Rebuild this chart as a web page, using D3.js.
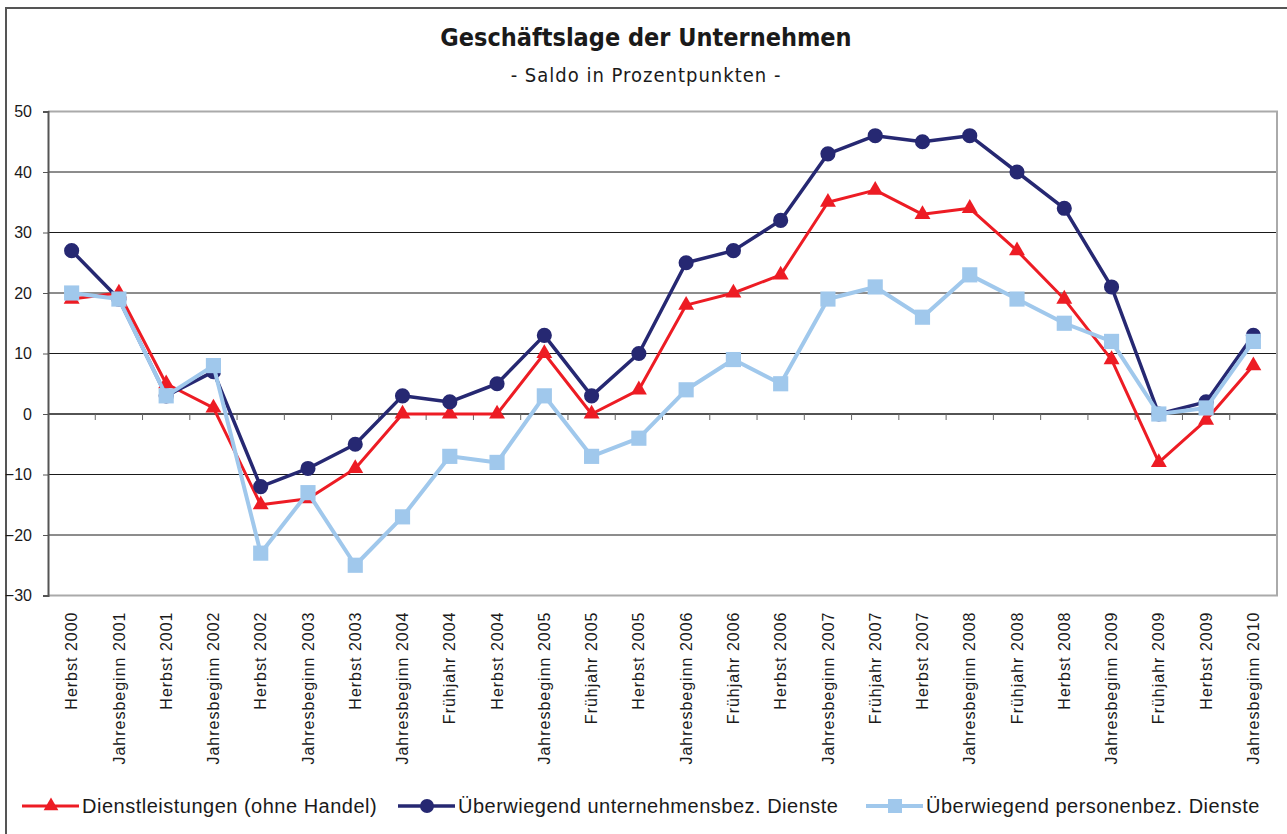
<!DOCTYPE html>
<html lang="de">
<head>
    <meta charset="UTF-8">
    <title>Geschäftslage der Unternehmen</title>
    <script src="https://d3js.org/d3.v7.min.js"></script>
    <style>
        body { margin: 0; background: #fff; }
        text { font-family: "Liberation Sans", Arial, sans-serif; fill: #1a1a1a; }
    </style>
</head>
<body>
    <svg id="chart"></svg>
    <script>
        const categories = [
            "Herbst 2000", "Jahresbeginn 2001", "Herbst 2001", "Jahresbeginn 2002", "Herbst 2002",
            "Jahresbeginn 2003", "Herbst 2003", "Jahresbeginn 2004", "Frühjahr 2004", "Herbst 2004",
            "Jahresbeginn 2005", "Frühjahr 2005", "Herbst 2005", "Jahresbeginn 2006", "Frühjahr 2006",
            "Herbst 2006", "Jahresbeginn 2007", "Frühjahr 2007", "Herbst 2007", "Jahresbeginn 2008",
            "Frühjahr 2008", "Herbst 2008", "Jahresbeginn 2009", "Frühjahr 2009", "Herbst 2009",
            "Jahresbeginn 2010"
        ];
        const dienstleistungen = [19, 20, 5, 1, -15, -14, -9, 0, 0, 0, 10, 0, 4, 18, 20, 23, 35, 37, 33, 34, 27, 19, 9, -8, -1, 8];
        const unternehmensbez = [27, 19, 3, 7, -12, -9, -5, 3, 2, 5, 13, 3, 10, 25, 27, 32, 43, 46, 45, 46, 40, 34, 21, 0, 2, 13];
        const personenbez = [20, 19, 3, 8, -23, -13, -25, -17, -7, -8, 3, -7, -4, 4, 9, 5, 19, 21, 16, 23, 19, 15, 12, 0, 1, 12];
        const yTicks = [50, 40, 30, 20, 10, 0, -10, -20, -30];

        const series = [
            { name: "Dienstleistungen (ohne Handel)", values: dienstleistungen, color: "#ed1c24", symbol: d3.symbolTriangle, size: 110, width: 3 },
            { name: "Überwiegend unternehmensbez. Dienste", values: unternehmensbez, color: "#262872", symbol: d3.symbolCircle, size: 180, width: 3.5 },
            { name: "Überwiegend personenbez. Dienste", values: personenbez, color: "#a0c8ec", symbol: d3.symbolSquare, size: 230, width: 4 }
        ];

        const width = 1287, height = 834;
        const plot = { left: 48, right: 1277, top: 111.5, bottom: 595.5 };

        const svg = d3.select("#chart").attr("width", width).attr("height", height);

        // outer frame (only top and left visible in the picture)
        svg.append("path").attr("d", `M6,${height}V8H${width}`)
            .attr("fill", "none").attr("stroke", "#555").attr("stroke-width", 2);

        svg.append("text").attr("x", 646).attr("y", 46).attr("text-anchor", "middle")
            .style("font-family", "'DejaVu Sans Condensed', 'DejaVu Sans', sans-serif")
            .style("font-stretch", "condensed")
            .style("font-weight", "bold").style("font-size", "25px")
            .attr("fill", "#2a2a2a")
            .text("Geschäftslage der Unternehmen");
        svg.append("text").attr("x", 646).attr("y", 82).attr("text-anchor", "middle")
            .style("font-family", "'DejaVu Sans Condensed', 'DejaVu Sans', sans-serif")
            .style("font-stretch", "condensed")
            .style("font-size", "20px").style("letter-spacing", "1px")
            .text("- Saldo in Prozentpunkten -");

        const x = d3.scaleBand().domain(categories).range([plot.left, plot.right]);
        const y = d3.scaleLinear().domain([-30, 50]).range([plot.bottom, plot.top]);
        const cx = d => x(d) + x.bandwidth() / 2;

        // grid lines
        svg.append("g").selectAll("line").data(yTicks.filter(t => t !== 50 && t !== -30)).join("line")
            .attr("x1", plot.left).attr("x2", plot.right)
            .attr("y1", d => y(d)).attr("y2", d => y(d))
            .attr("stroke", "#1a1a1a").attr("stroke-width", d => d === 0 ? 1.5 : 1);

        // plot border (light grey top/right/bottom)
        svg.append("path")
            .attr("d", `M${plot.left},${plot.top}H${plot.right}V${plot.bottom}H${plot.left}`)
            .attr("fill", "none").attr("stroke", "#aaa").attr("stroke-width", 2);

        // y axis
        const yAxis = svg.append("g").attr("transform", `translate(${plot.left},0)`)
            .call(d3.axisLeft(y).tickValues(yTicks).tickSize(5).tickPadding(11).tickFormat(d3.format("d")));
        yAxis.select(".domain").attr("stroke", "#555").attr("stroke-width", 2);
        yAxis.selectAll(".tick line").attr("stroke", "#555");
        yAxis.selectAll("text").style("font-size", "16px").style("font-family", "'Liberation Sans', Arial, sans-serif").attr("fill", "#1a1a1a");

        // category ticks on zero line
        svg.append("g").selectAll("line").data(categories.slice(1).concat(["end"])).join("line")
            .attr("x1", (d, i) => plot.left + (i + 1) * x.step())
            .attr("x2", (d, i) => plot.left + (i + 1) * x.step())
            .attr("y1", y(0)).attr("y2", y(0) + 6)
            .attr("stroke", "#666").attr("stroke-width", 1);

        // x labels
        const xAxis = svg.append("g").attr("transform", `translate(0,${plot.bottom})`)
            .call(d3.axisBottom(x).tickSize(0).tickPadding(0));
        xAxis.select(".domain").remove();
        xAxis.selectAll("text")
            .attr("transform", "rotate(-90)")
            .attr("x", -16).attr("y", 0).attr("dy", "0.35em")
            .attr("text-anchor", "end")
            .style("font-size", "16px").style("letter-spacing", "1px")
            .style("font-family", "'Liberation Sans', Arial, sans-serif").attr("fill", "#1a1a1a");

        // lines and markers
        const line = d3.line().x((d, i) => cx(categories[i])).y(d => y(d));
        series.forEach(s => {
            const g = svg.append("g");
            g.append("path").datum(s.values).attr("d", line)
                .attr("fill", "none").attr("stroke", s.color).attr("stroke-width", s.width)
                .attr("stroke-linejoin", "round");
            g.selectAll("path.m").data(s.values).join("path").attr("class", "m")
                .attr("d", d3.symbol().type(s.symbol).size(s.size))
                .attr("transform", (d, i) => `translate(${cx(categories[i])},${y(d)})`)
                .attr("fill", s.color);
        });

        // legend
        const legendX = [22, 398, 866];
        const legend = svg.append("g").attr("transform", "translate(0,806)");
        series.forEach((s, i) => {
            const g = legend.append("g").attr("transform", `translate(${legendX[i]},0)`);
            g.append("line").attr("x1", 0).attr("x2", 57).attr("y1", 0).attr("y2", 0)
                .attr("stroke", s.color).attr("stroke-width", s.width);
            g.append("path").attr("d", d3.symbol().type(s.symbol).size(s.size * 0.85))
                .attr("transform", "translate(29,0)").attr("fill", s.color);
            g.append("text").attr("x", 60).attr("y", 0).attr("dy", "0.36em")
                .style("font-size", "20px").style("letter-spacing", "0.5px")
                .text(s.name);
        });
    </script>
</body>
</html>
